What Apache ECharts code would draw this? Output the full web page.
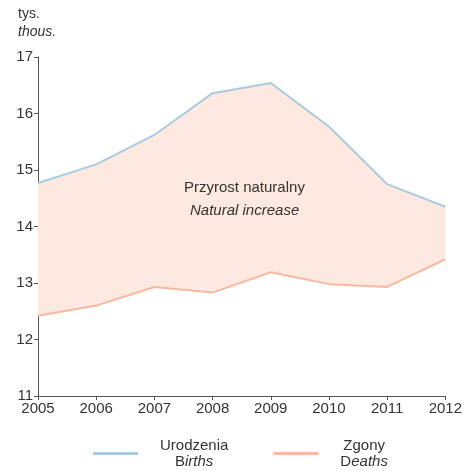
<!DOCTYPE html>
<html>
<head>
<meta charset="utf-8">
<script src="https://cdn.jsdelivr.net/npm/echarts@6/dist/echarts.min.js"></script>
<style>
  html, body { margin: 0; padding: 0; background: #fff; }
  #chart { width: 465px; height: 471px; }
</style>
</head>
<body>
<div id="chart"></div>
<script>
// dane (tys.)
var years = ['2005', '2006', '2007', '2008', '2009', '2010', '2011', '2012'];
var births = [14.77, 15.10, 15.62, 16.36, 16.54, 15.77, 14.75, 14.35];
var deaths = [12.42, 12.60, 12.93, 12.83, 13.19, 12.98, 12.93, 13.42];

// roznica do wypelnienia pasma miedzy liniami
var band = births.map(function (b, i) { return +(b - deaths[i]).toFixed(2); });

var txt = '#333';
var font = 'Liberation Sans, Arial, sans-serif';

var myChart = echarts.init(document.getElementById('chart'));
var option = {
    animation: false,
    textStyle: { fontFamily: font, color: txt },
    grid: { left: 38, right: 16, top: 57, bottom: 75 },
    xAxis: {
        type: 'category',
        data: years,
        boundaryGap: false,
        axisLine: { lineStyle: { color: '#555', width: 1 } },
        axisTick: { show: true, length: 4, lineStyle: { color: '#555' } },
        axisLabel: { color: txt, fontSize: 15, margin: 5, fontFamily: font }
    },
    yAxis: {
        type: 'value',
        min: 11,
        max: 17,
        interval: 1,
        splitLine: { show: false },
        axisLine: { show: true, lineStyle: { color: '#555', width: 1 } },
        axisTick: { show: true, length: 4, lineStyle: { color: '#555' } },
        axisLabel: { color: txt, fontSize: 15, margin: 5, fontFamily: font }
    },
    legend: {
        bottom: -3,
        left: 88,
        itemGap: 45,
        itemWidth: 45,
        itemHeight: 3,
        icon: 'rect',
        data: ['Urodzenia', 'Zgony'],
        formatter: function (name) {
            if (name === 'Urodzenia') return '{r|Urodzenia}\n{r|B}{i|irths}';
            return '{r|Zgony}\n{r|D}{i|eaths}';
        },
        textStyle: {
            color: txt,
            fontSize: 15,
            fontFamily: font,
            padding: [0, 0, 0, 17],
            rich: {
                r: { fontSize: 15, color: txt, align: 'center', lineHeight: 16, fontFamily: font },
                i: { fontSize: 15, color: txt, align: 'center', lineHeight: 16, fontStyle: 'italic', fontFamily: font }
            }
        }
    },
    graphic: [
        { type: 'text', left: 18, top: 7, z: 100, style: { text: 'tys.', fontSize: 14, fill: txt, fontFamily: font } },
        { type: 'text', left: 18, top: 25, z: 100, style: { text: 'thous.', fontSize: 14, fontStyle: 'italic', fill: txt, fontFamily: font } },
        { type: 'text', left: 184, top: 180, z: 100, style: { text: 'Przyrost naturalny', fontSize: 15, fill: txt, fontFamily: font } },
        { type: 'text', left: 190, top: 203, z: 100, style: { text: 'Natural increase', fontSize: 15, fontStyle: 'italic', fill: txt, fontFamily: font } }
    ],
    series: [
        {
            name: 'base', type: 'line', stack: 'band', data: deaths,
            symbol: 'none', lineStyle: { opacity: 0 }, silent: true, z: 1
        },
        {
            name: 'band', type: 'line', stack: 'band', data: band,
            symbol: 'none', lineStyle: { opacity: 0 },
            areaStyle: { color: '#fde9e0', opacity: 1 }, silent: true, z: 1
        },
        {
            name: 'Urodzenia', type: 'line', data: births,
            symbol: 'none', color: '#a9cbe0',
            lineStyle: { color: '#a9cbe0', width: 2 }, z: 3
        },
        {
            name: 'Zgony', type: 'line', data: deaths,
            symbol: 'none', color: '#f9b8a0',
            lineStyle: { color: '#f9b8a0', width: 2 }, z: 3
        }
    ]
};
myChart.setOption(option);
</script>
</body>
</html>
